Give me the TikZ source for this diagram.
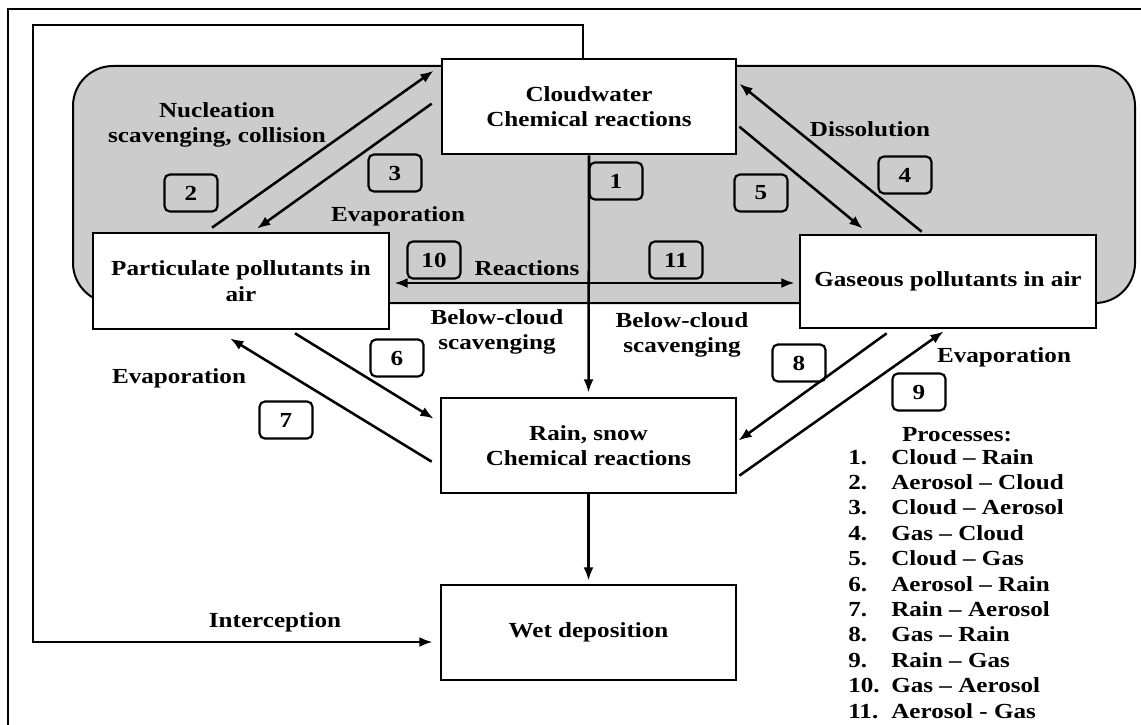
\documentclass[tikz,border=0pt]{standalone}
\usepackage{fontspec}
\setmainfont{Liberation Serif}[FakeStretch=1.17]
\usetikzlibrary{arrows.meta,calc}
\definecolor{cloudgray}{RGB}{204,204,204}
\newcommand\dfont{\fontsize{16.1}{19.2}\selectfont\bfseries}
\tikzset{
  bigbox/.style={draw, line width=2pt, fill=white, align=center, font=\dfont, inner sep=0pt},
  numbox/.style={draw, line width=1.6pt, rounded corners=4pt, minimum width=39.75pt, minimum height=27.75pt, inner sep=0pt, font=\dfont},
  lbl/.style={align=center, font=\dfont, inner sep=0pt},
  leg/.style={anchor=base west, font=\dfont, inner sep=0pt},
  arr/.style={line width=1.9pt, -{Latex[length=10pt,width=7.5pt]}},
  darr/.style={line width=1.9pt, {Latex[length=10pt,width=7.5pt]}-{Latex[length=10pt,width=7.5pt]}},
}
\begin{document}
\begin{tikzpicture}[x=0.75pt,y=-0.75pt]
\useasboundingbox (0,0) rectangle (1141,724);
% outer frame
\draw[line width=1.5pt] (8,730) -- (8,9) -- (1150,9);
% gray cloud region
\draw[fill=cloudgray, line width=1.5pt, rounded corners=30pt] (73,66) rectangle (1135,303);
% main boxes
\node[bigbox, minimum width=220.5pt, minimum height=71.25pt] (cloud) at (589,106.5) {Cloudwater\\Chemical reactions};
\node[bigbox, minimum width=222pt, minimum height=72pt] (part) at (241,281) {Particulate pollutants in\\air};
\node[bigbox, minimum width=222pt, minimum height=69.75pt] (gas) at (948,281.5) {Gaseous pollutants in air};
\node[bigbox, minimum width=221.25pt, minimum height=71.25pt] (rain) at (588.5,445.5) {Rain, snow\\Chemical reactions};
\node[bigbox, minimum width=221.25pt, minimum height=71.25pt] (wet) at (588.5,632.5) {Wet deposition};
% interception loop
\coordinate (lt) at (33,25);
\draw[arr, line width=2pt] ($(cloud.north)+(-6,0)$) |- (lt) |- ($(wet.west)+(-7,9.5)$);
% arrows
\draw[arr] (cloud.south) -- ($(rain.north)+(0,-4)$);
\draw[arr] (rain.south) -- ($(wet.north)+(0,-3)$);
\draw[arr] ($(part.north)+(-29,-4)$) -- ($(cloud.north west)+(-7,13)$);
\draw[arr] ($(cloud.north west)+(-9,46)$) -- ($(part.north)+(16,-3)$);
\draw[arr] ($(gas.north west)+(123,-2)$) -- ($(cloud.north east)+(2,26)$);
\draw[arr] ($(cloud.north east)+(2,69)$) -- ($(gas.north west)+(64,-5)$);
\draw[darr] ($(part.east)+(4,2)$) -- ($(gas.west)+(-4,1.5)$);
\draw[arr] ($(part.south)+(54,3)$) -- ($(rain.north west)+(-6,22)$);
\draw[arr] ($(rain.north west)+(-8,65)$) -- ($(part.south)+(-11,8)$);
\draw[arr] ($(gas.south west)+(88,4)$) -- ($(rain.north east)+(1,44)$);
\draw[arr] ($(rain.north east)+(2,79)$) -- ($(gas.south west)+(145,2)$);
% number boxes
\node[numbox] (n1) at (616,181) {1};
\node[numbox] (n2) at (191,193) {2};
\node[numbox] (n3) at (395,173) {3};
\node[numbox] (n4) at (905,175) {4};
\node[numbox] (n5) at (761,193) {5};
\node[numbox] (n6) at (397,358) {6};
\node[numbox] (n7) at (286,420) {7};
\node[numbox] (n8) at (799,363) {8};
\node[numbox] (n9) at (919,392) {9};
\node[numbox] (n10) at (434,260) {10};
\node[numbox] (n11) at (676,260) {11};
% labels
\node[lbl] (lnuc) at (217,125) {Nucleation\\scavenging, collision};
\node[lbl] (levap1) at (398,216) {Evaporation};
\node[lbl] (ldiss) at (870,129) {Dissolution};
\node[lbl] (lreac) at (527,268) {Reactions};
\node[lbl] (lbc1) at (497,332) {Below-cloud\\scavenging};
\node[lbl] (lbc2) at (682,335) {Below-cloud\\scavenging};
\node[lbl] (levap2) at (179,378) {Evaporation};
\node[lbl] (levap3) at (1004,357) {Evaporation};
\node[lbl] (lint) at (275,622) {Interception};
% legend
\node[lbl] (lproc) at (957,435) {Processes:};
\foreach \n/\t [count=\i from 0] in {1./Cloud – Rain, 2./Aerosol – Cloud, 3./Cloud – Aerosol, 4./Gas – Cloud, 5./Cloud – Gas, 6./Aerosol – Rain, 7./Rain – Aerosol, 8./Gas – Rain, 9./Rain – Gas, 10./Gas – Aerosol, 11./Aerosol - Gas}
  \node[leg] (leg\i) at (848,{464+25.4*\i}) {\makebox[32.25pt][l]{\n}\t};
\end{tikzpicture}
\end{document}
